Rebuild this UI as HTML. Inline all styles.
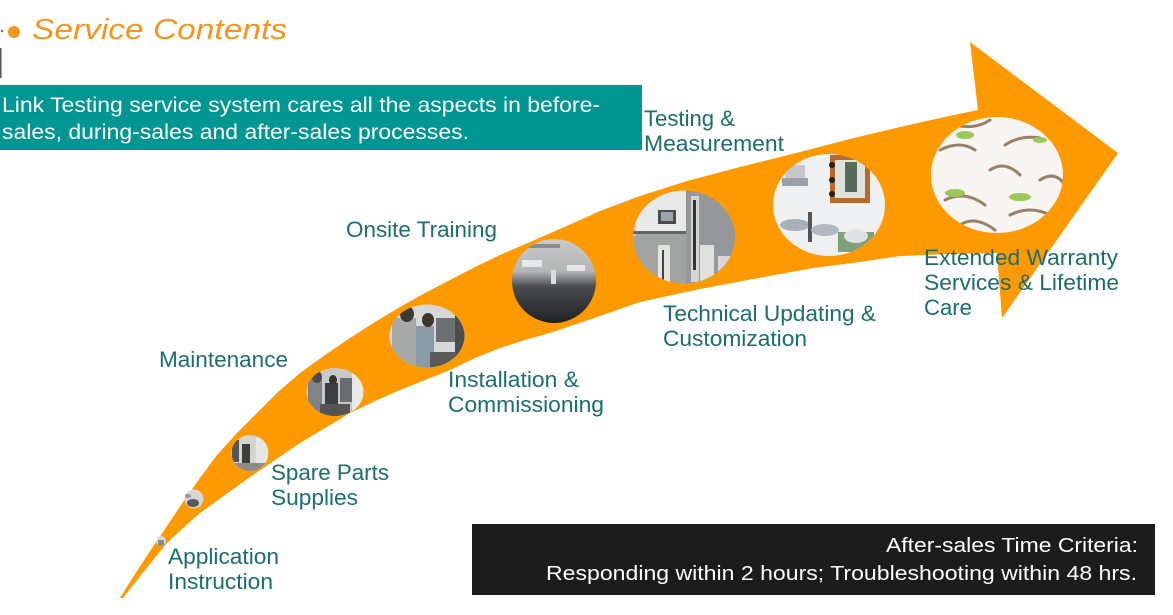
<!DOCTYPE html>
<html>
<head>
<meta charset="utf-8">
<style>
  html,body{margin:0;padding:0;background:#ffffff;}
  body{width:1173px;height:615px;overflow:hidden;}
  svg{display:block;}
  text{font-family:"Liberation Sans", Arial, sans-serif;}
</style>
</head>
<body>
<svg width="1173" height="615" viewBox="0 0 1173 615" xmlns="http://www.w3.org/2000/svg">
  <defs>
    <clipPath id="c1"><circle cx="161" cy="541" r="5"/></clipPath>
    <clipPath id="c2"><circle cx="194" cy="499" r="9.5"/></clipPath>
    <clipPath id="c3"><ellipse cx="250" cy="453" rx="18.5" ry="18"/></clipPath>
    <clipPath id="c4"><ellipse cx="335" cy="392" rx="28.5" ry="24"/></clipPath>
    <clipPath id="c5"><ellipse cx="427" cy="336" rx="37.5" ry="31.5"/></clipPath>
    <clipPath id="c6"><ellipse cx="554" cy="281" rx="42" ry="42"/></clipPath>
    <clipPath id="c7"><ellipse cx="684" cy="237" rx="51" ry="46.5"/></clipPath>
    <clipPath id="c8"><ellipse cx="829" cy="205" rx="56" ry="51"/></clipPath>
    <clipPath id="c9"><ellipse cx="997" cy="175" rx="66" ry="58"/></clipPath>
    <linearGradient id="gOnsite" x1="0" y1="0" x2="0" y2="1">
      <stop offset="0" stop-color="#c9cbcc"/>
      <stop offset="0.38" stop-color="#b4b6b6"/>
      <stop offset="0.55" stop-color="#4a4c4e"/>
      <stop offset="1" stop-color="#1c1d1f"/>
    </linearGradient>
  </defs>

  <!-- Title -->
  <circle cx="2" cy="31" r="1.3" fill="#777"/>
  <circle cx="14" cy="32" r="6" fill="#F7941D"/>
  <text x="32" y="39" font-size="29" font-style="italic" fill="#F7941D" textLength="255" lengthAdjust="spacingAndGlyphs">Service Contents</text>
  <rect x="0" y="48" width="1.5" height="30" fill="#555"/>

  <!-- Teal intro box -->
  <rect x="0" y="85" width="642" height="65" fill="#009691"/>
  <text x="2" y="112" font-size="21.5" fill="#ffffff" textLength="598" lengthAdjust="spacingAndGlyphs">Link Testing service system cares all the aspects in before-</text>
  <text x="2" y="139" font-size="21.5" fill="#ffffff" textLength="467" lengthAdjust="spacingAndGlyphs">sales, during-sales and after-sales processes.</text>

  <!-- Curved orange arrow -->
  <path fill="#FF9900" d="
    M120,598
    L135,574 L150,551 L167,526 L183,502 L200,478 L217,455 L237,433 L257,413 L278,392 L300,373
    L325,355 L350,338 L375,322 L400,307 L425,293 L450,280 L475,267 L500,255 L530,242 L560,229
    L600,211 L640,196 L687,181 L740,167 L800,152 L850,139 L900,127 L940,118 L978,110
    L970,42 L1118,153 L1002,318 L997,253
    L950,254 L900,256 L860,262 L813,268 L753,279 L700,289 L640,302 L597,317 L553,332
    L525,340 L500,348 L475,358 L450,370 L425,380 L400,390 L375,401 L350,413 L325,428 L300,443
    L275,460 L250,477 L225,495 L200,513 L183,528 L167,543 L145,570 L123,598 Z"/>

  <!-- Circles (photo approximations) -->
  <g clip-path="url(#c1)">
    <rect x="150" y="530" width="22" height="22" fill="#d8d8d8"/>
    <rect x="158" y="540" width="6" height="6" fill="#8a8a8a"/>
  </g>
  <g clip-path="url(#c2)">
    <rect x="180" y="485" width="30" height="30" fill="#d6d6d6"/>
    <ellipse cx="193" cy="503" rx="6" ry="4" fill="#5a5a5a"/>
    <ellipse cx="188" cy="496" rx="3" ry="2" fill="#999"/>
  </g>
  <g clip-path="url(#c3)">
    <rect x="228" y="432" width="45" height="45" fill="#d4d4d2"/>
    <rect x="232" y="440" width="7" height="22" fill="#555"/>
    <rect x="242" y="444" width="8" height="20" fill="#3e3e3e"/>
    <rect x="256" y="438" width="12" height="26" fill="#e6e6e4"/>
    <rect x="230" y="463" width="40" height="10" fill="#8c8c8a"/>
  </g>
  <g clip-path="url(#c4)">
    <rect x="305" y="366" width="60" height="52" fill="#c8c9c8"/>
    <rect x="308" y="378" width="14" height="38" fill="#7f8486"/>
    <ellipse cx="317" cy="377" rx="5" ry="6" fill="#4a4a48"/>
    <rect x="325" y="383" width="13" height="33" fill="#3c3f44"/>
    <ellipse cx="333" cy="380" rx="4" ry="5" fill="#3a3530"/>
    <rect x="340" y="378" width="14" height="24" fill="#6a6d70"/>
    <rect x="352" y="368" width="12" height="50" fill="#e8e8e6"/>
    <rect x="320" y="404" width="30" height="12" fill="#555"/>
  </g>
  <g clip-path="url(#c5)">
    <rect x="388" y="303" width="78" height="66" fill="#d5d8d6"/>
    <rect x="392" y="318" width="24" height="50" fill="#a7a9a8"/>
    <ellipse cx="407" cy="314" rx="7" ry="8" fill="#3d3a36"/>
    <rect x="416" y="326" width="18" height="42" fill="#8a9aa6"/>
    <ellipse cx="428" cy="320" rx="6" ry="7" fill="#3a3530"/>
    <rect x="436" y="318" width="20" height="24" fill="#6c7072"/>
    <rect x="455" y="306" width="10" height="60" fill="#4a4d50"/>
    <rect x="430" y="352" width="26" height="16" fill="#5b5b5b"/>
  </g>
  <g clip-path="url(#c6)">
    <rect x="510" y="237" width="90" height="90" fill="url(#gOnsite)"/>
    <rect x="522" y="260" width="20" height="7" fill="#e6e8ea"/>
    <rect x="567" y="265" width="18" height="6" fill="#e6e8ea"/>
    <rect x="520" y="244" width="40" height="4" fill="#8a8c8e"/>
    <rect x="551" y="270" width="5" height="14" fill="#dcdcdc"/>
  </g>
  <g clip-path="url(#c7)">
    <rect x="630" y="188" width="110" height="100" fill="#a2a4a4"/>
    <rect x="630" y="188" width="56" height="46" fill="#e8e9e8"/>
    <rect x="630" y="196" width="6" height="40" fill="#c8c8c8"/>
    <rect x="658" y="210" width="18" height="14" fill="#4a4c50"/>
    <rect x="661" y="212" width="12" height="9" fill="#9ea4aa"/>
    <rect x="630" y="231" width="56" height="3" fill="#666"/>
    <rect x="686" y="188" width="50" height="100" fill="#95979a"/>
    <rect x="691" y="196" width="8" height="86" fill="#d4d4d2"/>
    <rect x="693" y="200" width="3" height="70" fill="#333"/>
    <rect x="658" y="245" width="12" height="40" fill="#e4e4e2"/>
    <rect x="662" y="250" width="2" height="30" fill="#444"/>
    <rect x="700" y="245" width="14" height="36" fill="#e0e0de"/>
    <rect x="718" y="256" width="12" height="24" fill="#d8d8d6"/>
  </g>
  <g clip-path="url(#c8)">
    <rect x="770" y="150" width="120" height="110" fill="#eef0f1"/>
    <rect x="785" y="165" width="20" height="14" fill="#c4c8cc"/>
    <rect x="782" y="178" width="26" height="8" fill="#9aa0a6"/>
    <rect x="830" y="155" width="40" height="48" fill="#b86a2e"/>
    <rect x="835" y="160" width="30" height="38" fill="#dce4dc"/>
    <rect x="845" y="162" width="12" height="30" fill="#5a6a5a"/>
    <circle cx="832" cy="165" r="3" fill="#222"/>
    <circle cx="832" cy="180" r="3" fill="#222"/>
    <circle cx="832" cy="194" r="3" fill="#222"/>
    <ellipse cx="795" cy="225" rx="15" ry="6" fill="#a8b0b8"/>
    <rect x="808" y="212" width="4" height="30" fill="#555"/>
    <ellipse cx="825" cy="230" rx="14" ry="6" fill="#b0b8c0"/>
    <rect x="838" y="232" width="36" height="20" fill="#7fa07a"/>
    <ellipse cx="856" cy="236" rx="12" ry="7" fill="#dfe2e4"/>
  </g>
  <g clip-path="url(#c9)">
    <rect x="928" y="114" width="140" height="124" fill="#f6f5f2"/>
    <g stroke="#9a8068" stroke-width="3" fill="none" stroke-linecap="round">
      <path d="M940,150 Q960,140 975,150"/>
      <path d="M955,125 Q975,130 990,120"/>
      <path d="M1005,145 Q1020,135 1040,138"/>
      <path d="M1030,120 Q1045,130 1060,125"/>
      <path d="M945,200 Q965,190 985,205"/>
      <path d="M990,170 Q1005,160 1020,175"/>
      <path d="M1010,215 Q1030,205 1050,215"/>
      <path d="M960,225 Q975,215 995,230"/>
      <path d="M1040,180 Q1055,170 1065,185"/>
    </g>
    <g fill="#9cc85a">
      <ellipse cx="965" cy="135" rx="9" ry="4"/>
      <ellipse cx="1040" cy="140" rx="7" ry="3"/>
      <ellipse cx="955" cy="193" rx="10" ry="4"/>
      <ellipse cx="1020" cy="197" rx="11" ry="4"/>
    </g>
  </g>

  <!-- Labels -->
  <g font-size="22" fill="#1a6e6e">
    <text x="644" y="126" textLength="91" lengthAdjust="spacingAndGlyphs">Testing &amp;</text>
    <text x="644" y="151" textLength="140" lengthAdjust="spacingAndGlyphs">Measurement</text>
    <text x="346" y="237" textLength="151" lengthAdjust="spacingAndGlyphs">Onsite Training</text>
    <text x="159" y="367" textLength="129" lengthAdjust="spacingAndGlyphs">Maintenance</text>
    <text x="448" y="387" textLength="131" lengthAdjust="spacingAndGlyphs">Installation &amp;</text>
    <text x="448" y="412" textLength="156" lengthAdjust="spacingAndGlyphs">Commissioning</text>
    <text x="663" y="321" textLength="213" lengthAdjust="spacingAndGlyphs">Technical Updating &amp;</text>
    <text x="663" y="346" textLength="144" lengthAdjust="spacingAndGlyphs">Customization</text>
    <text x="924" y="265" textLength="194" lengthAdjust="spacingAndGlyphs">Extended Warranty</text>
    <text x="924" y="290" textLength="195" lengthAdjust="spacingAndGlyphs">Services &amp; Lifetime</text>
    <text x="924" y="315" textLength="48" lengthAdjust="spacingAndGlyphs">Care</text>
    <text x="271" y="480" textLength="118" lengthAdjust="spacingAndGlyphs">Spare Parts</text>
    <text x="271" y="505" textLength="87" lengthAdjust="spacingAndGlyphs">Supplies</text>
    <text x="168" y="564" textLength="111" lengthAdjust="spacingAndGlyphs">Application</text>
    <text x="168" y="589" textLength="105" lengthAdjust="spacingAndGlyphs">Instruction</text>
  </g>

  <!-- Black criteria box -->
  <rect x="472" y="524" width="683" height="71" fill="#1c1c1c"/>
  <text x="886" y="552" font-size="20.5" fill="#ffffff" textLength="252" lengthAdjust="spacingAndGlyphs">After-sales Time Criteria:</text>
  <text x="546" y="580" font-size="20.5" fill="#ffffff" textLength="591" lengthAdjust="spacingAndGlyphs">Responding within 2 hours; Troubleshooting within 48 hrs.</text>
</svg>
</body>
</html>
